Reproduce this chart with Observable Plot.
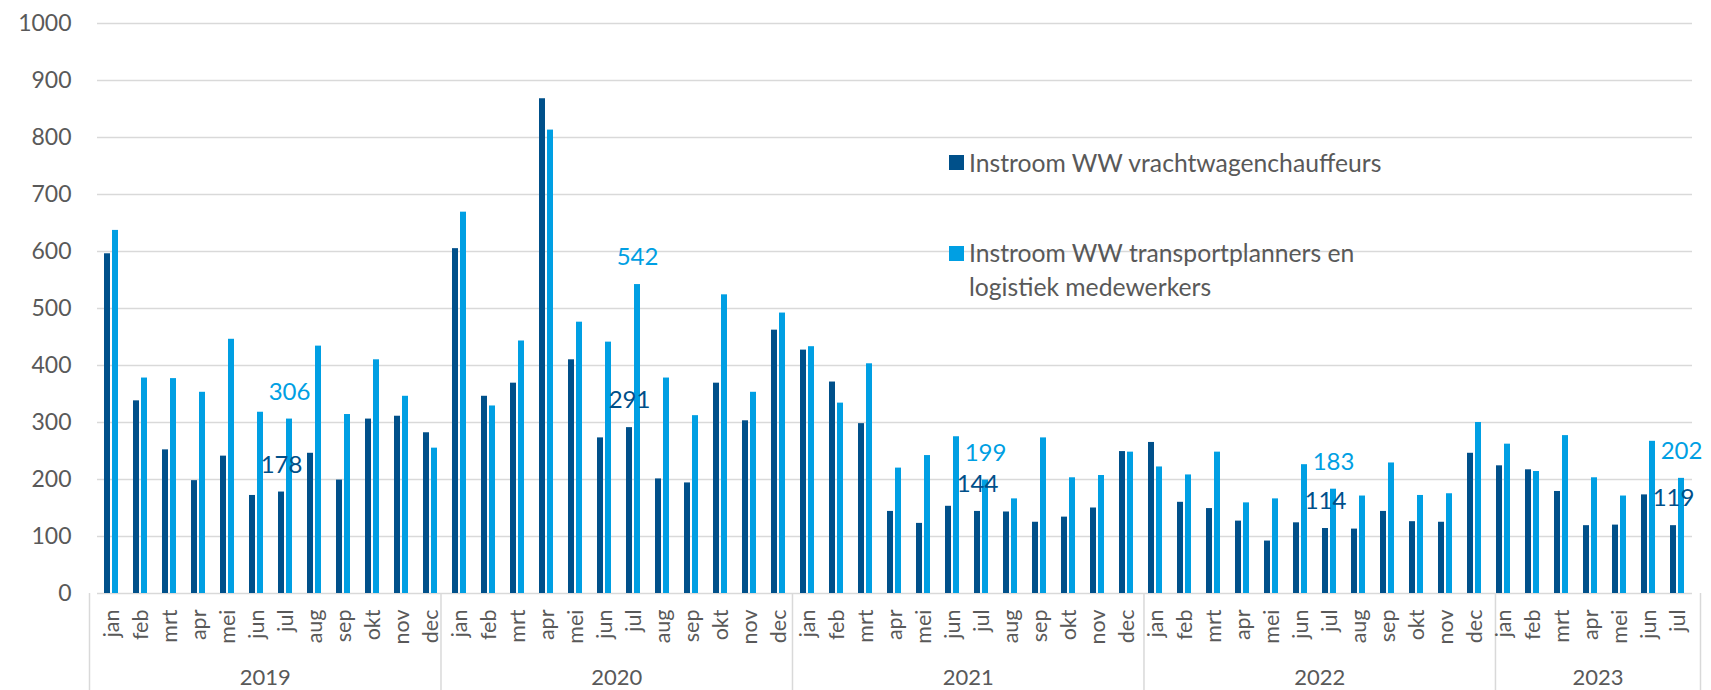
<!DOCTYPE html>
<html><head><meta charset="utf-8">
<script src="https://cdn.jsdelivr.net/npm/d3@7"></script>
<script src="https://cdn.jsdelivr.net/npm/@observablehq/plot@0.6"></script>
<style>
body{margin:0;background:#fff;}
#wrap{position:relative;width:1711px;height:690px;font-family:Lato, sans-serif;color:#595959;overflow:hidden;}
#wrap svg{position:absolute;left:0;top:0;}
.leg{position:absolute;font-size:24.7px;line-height:34px;color:#595959;white-space:nowrap;}
.sw{position:absolute;width:15px;height:15px;}
</style></head><body><div id="wrap"></div>
<script>
const years = ["2019","2020","2021","2022","2023"];
const monthsPerYear = [12,12,12,12,7];
const monthNames = ["jan","feb","mrt","apr","mei","jun","jul","aug","sep","okt","nov","dec"];
const seriesNames = ["Instroom WW vrachtwagenchauffeurs","Instroom WW transportplanners en logistiek medewerkers"];
const seriesColors = ["#00508A","#009FE3"];
const chauffeurs = [
  596,338,252,198,241,172,178,246,199,306,311,282,
  605,346,369,868,410,273,291,201,194,369,303,462,
  427,371,298,144,123,153,144,143,125,134,150,249,
  265,160,149,127,92,124,114,113,144,126,125,246,
  224,217,179,119,120,173,119
];
const planners = [
  637,378,377,353,446,318,306,434,314,410,346,255,
  669,329,443,813,476,441,542,378,312,524,353,492,
  433,334,403,220,242,275,199,166,273,203,207,248,
  222,208,248,159,166,226,183,171,229,172,175,300,
  262,214,277,203,171,267,202
];
const yTicks = d3.range(0, 1001, 100);

// build table
const rows = [];
const monthLabels = [];
const yearInfo = [];
const bounds = [0];
let idx = 0;
years.forEach((yr, yi) => {
  const start = idx;
  for (let m = 0; m < monthsPerYear[yi]; m++) {
    monthLabels.push(monthNames[m]);
    rows.push({idx, year: yr, month: monthNames[m], s: 0, series: seriesNames[0], value: chauffeurs[idx]});
    rows.push({idx, year: yr, month: monthNames[m], s: 1, series: seriesNames[1], value: planners[idx]});
    idx++;
  }
  bounds.push(idx);
  yearInfo.push({year: yr, mid: (start + idx) / 2});
});
const nMonths = idx;

const W = 1711, H = 690, ML = 89, MR = 11, MT = 23, MB = 97;
const font = "Lato, sans-serif";

const yearAxis = Plot.plot({
  width: W, height: H, marginLeft: ML, marginRight: MR, marginTop: H - MB, marginBottom: 0,
  style: {fontFamily: font, fontSize: "22px", color: "#595959", background: "transparent"},
  x: {domain: [0, nMonths], axis: null},
  y: {axis: null},
  marks: [
    Plot.ruleX(bounds, {stroke: "#D9D9D9", strokeWidth: 1.5}),
    Plot.text(yearInfo, {x: "mid", text: "year", frameAnchor: "bottom", lineAnchor: "middle", dy: -13, fill: "#595959", fontSize: 22})
  ]
});

const main = Plot.plot({
  width: W, height: H, marginLeft: ML, marginRight: MR, marginTop: MT, marginBottom: MB,
  style: {fontFamily: font, fontSize: "22px", color: "#595959", background: "transparent", overflow: "visible"},
  fx: {domain: d3.range(nMonths), padding: 0, label: null, axis: null},
  x: {domain: [0, 1], paddingInner: 0.19, paddingOuter: 0.86, axis: null},
  y: {domain: [0, 1000], axis: null},
  color: {domain: seriesNames, range: seriesColors},
  marks: [
    Plot.gridY(yTicks, {stroke: "#D9D9D9", strokeOpacity: 1, strokeWidth: 1.5}),
    Plot.axisY(yTicks, {anchor: "left", tickSize: 0, tickPadding: 26, label: null, tickFormat: d => String(d), fontSize: 23, fill: "#595959"}),
    Plot.axisFx({anchor: "bottom", tickRotate: -90, tickSize: 0, tickPadding: 16, label: null, tickFormat: i => monthLabels[i], fontSize: 21.5, fill: "#595959"}),
    Plot.barY(rows, {fx: "idx", x: "s", y: "value", fill: "series"}),
    Plot.text(rows.filter(d => d.month === "jul"), {fx: "idx", x: "s", y: "value", text: d => String(d.value), fill: "series", dy: -27, fontSize: 24})
  ]
});

const wrap = document.getElementById("wrap");
wrap.appendChild(yearAxis);
wrap.appendChild(main);

// legend
const leg = [
  {top: 155, textTop: 146, html: seriesNames[0]},
  {top: 246, textTop: 236, html: "Instroom WW transportplanners en<br>logistiek medewerkers"}
];
leg.forEach((l, i) => {
  const sw = document.createElement("div");
  sw.className = "sw"; sw.style.left = "949px"; sw.style.top = l.top + "px"; sw.style.background = seriesColors[i];
  wrap.appendChild(sw);
  const t = document.createElement("div");
  t.className = "leg"; t.style.left = "969px"; t.style.top = l.textTop + "px"; t.innerHTML = l.html;
  wrap.appendChild(t);
});
</script></body></html>
